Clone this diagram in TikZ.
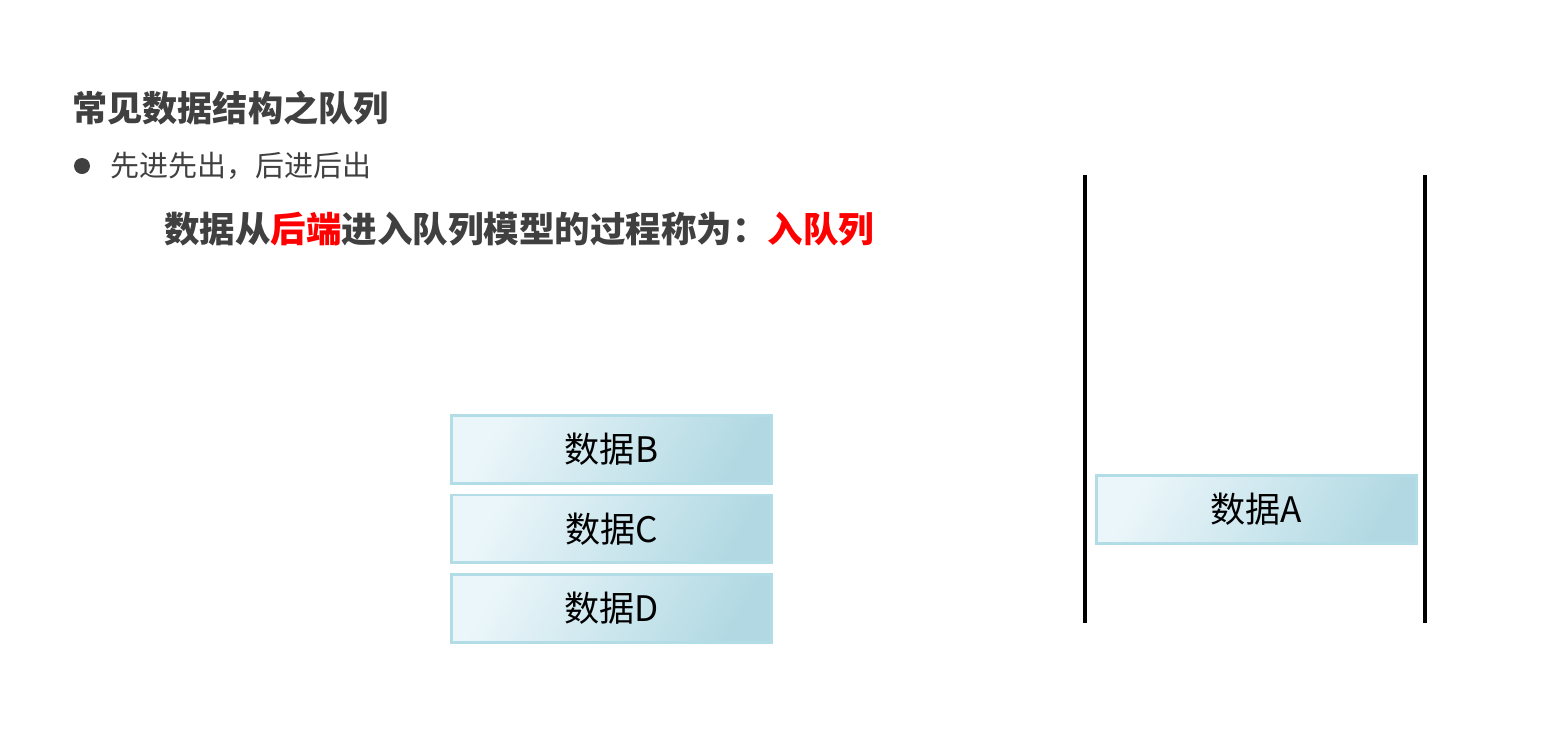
\documentclass[tikz,border=0pt]{standalone}
\usepackage{fontspec}
\setmainfont{Noto Sans CJK SC}
\usepackage{tikz}
\usetikzlibrary{positioning}
\usepackage{xcolor}
\definecolor{ink}{HTML}{404040}
\definecolor{hot}{HTML}{FF0000}
\definecolor{icefill}{HTML}{EBF6FA}
\definecolor{icemid}{HTML}{C8E5ED}
\definecolor{icedeep}{HTML}{B2D9E3}
\definecolor{iceedge}{HTML}{B2DCE6}

\begin{document}
\begin{tikzpicture}[x=0.02cm,y=-0.02cm,
  databox/.style={draw=iceedge,line width=1.7pt,left color=icefill,middle color=icemid,
    right color=icedeep,shading angle=60,minimum width=6.40cm,minimum height=1.36cm,
    inner sep=0pt,outer sep=0pt,font=\fontsize{20}{24}\selectfont},
  wall/.style={line width=2pt,black}]
  \useasboundingbox (0,0) rectangle (1555,735);

  % Headings
  \node[anchor=west,inner sep=0pt,ink,font=\fontsize{20}{24}\selectfont\bfseries]
    (title) at (72,108) {常见数据结构之队列};
  \fill[ink] (82,166) circle (8);
  \node[anchor=west,inner sep=0pt,ink,font=\fontsize{16.5}{20}\selectfont]
    (rule) at (110,166) {先进先出，后进后出};
  \node[anchor=west,inner sep=0pt,ink,font=\fontsize{20.2}{24}\selectfont\bfseries]
    (enq) at (164,229) {数据从\textcolor{hot}{后端}进入队列模型的过程称为：\textcolor{hot}{入队列}};

  % Waiting data
  \node[databox] (dataB) at (611.5,449.5) {数据B};
  \node[databox,below=0.23cm of dataB] (dataC) {数据C};
  \node[databox,below=0.23cm of dataC] (dataD) {数据D};

  % Queue
  \coordinate (rearTop) at (1085,175);
  \coordinate (rearBot) at (1085,623);
  \coordinate (frontTop) at (1425,175);
  \coordinate (frontBot) at (1425,623);
  \draw[wall] (rearTop) -- (rearBot);
  \draw[wall] (frontTop) -- (frontBot);
  \node[databox] (dataA) at (1256.5,509.5) {数据A};
\end{tikzpicture}
\end{document}
